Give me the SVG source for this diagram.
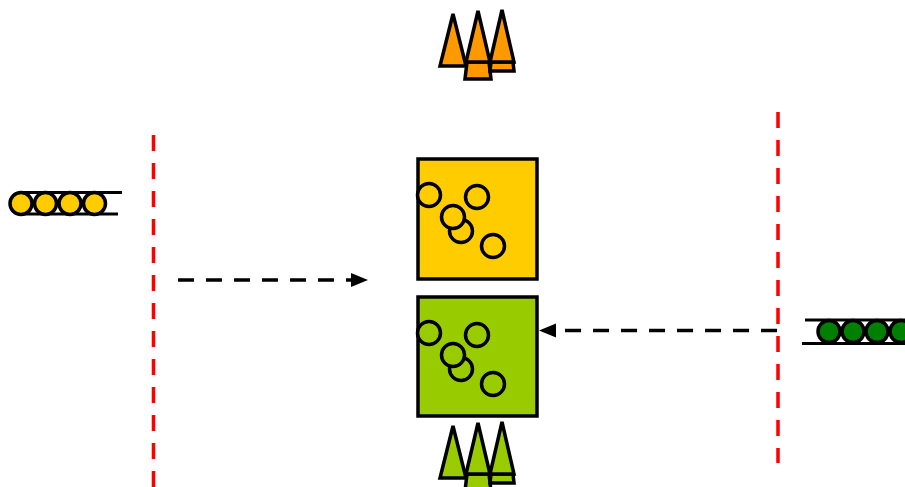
<svg xmlns="http://www.w3.org/2000/svg" width="905" height="487" viewBox="0 0 905 487">
  <style>
    .bd { stroke: #000; stroke-width: 3.5; stroke-linejoin: miter; }
    .boundary { stroke: #FF0000; stroke-width: 3.5; stroke-dasharray: 16 12; fill: none; }
    .flow { stroke: #000; stroke-width: 3.5; stroke-dasharray: 16 12; fill: none; }
    .rail { stroke: #000; stroke-width: 3; }
  </style>
  <defs>
    <marker id="head" markerUnits="userSpaceOnUse" markerWidth="18" markerHeight="16" refX="1" refY="8" orient="auto">
      <polygon points="0,1 17,8 0,15" fill="#000"/>
    </marker>
    <!-- cluster of three cones -->
    <g id="cones">
      <polygon class="bd" points="453,14 440,66 466,66"/>
      <polygon class="bd" points="467,62 489,62 491,79 465,79"/>
      <polygon class="bd" points="478,11 466,62 490,62"/>
      <polygon class="bd" points="491,62 513,62 514,71 490,71"/>
      <polygon class="bd" points="502,10 490,62 514,62"/>
    </g>
    <!-- box with scattered particles -->
    <g id="particles">
      <circle cx="12" cy="36" r="11.5"/>
      <circle cx="60" cy="38" r="11.5"/>
      <circle cx="44" cy="72" r="11.5"/>
      <circle cx="36" cy="58" r="11.5"/>
      <circle cx="76" cy="87" r="11.5"/>
    </g>
  </defs>

  <!-- boundaries -->
  <g id="boundaries">
    <line class="boundary" x1="153.5" y1="135" x2="153.5" y2="490"/>
    <line class="boundary" x1="778" y1="112" x2="778" y2="463"/>
  </g>

  <!-- top cones (orange) -->
  <g id="cones-top" fill="#FF9900">
    <use href="#cones"/>
  </g>

  <!-- bottom cones (green) -->
  <g id="cones-bottom" fill="#99CC00">
    <use href="#cones" transform="translate(0,412)"/>
  </g>

  <!-- yellow chain, left -->
  <g id="chain-left">
    <line class="rail" x1="20" y1="192.5" x2="122" y2="192.5"/>
    <line class="rail" x1="20" y1="214" x2="118" y2="214"/>
    <g fill="#FFCC00" class="bd">
      <circle cx="21" cy="203.5" r="11"/>
      <circle cx="45.5" cy="203.5" r="11"/>
      <circle cx="70" cy="203.5" r="11"/>
      <circle cx="94.5" cy="203.5" r="11"/>
    </g>
  </g>

  <!-- green chain, right -->
  <g id="chain-right">
    <line class="rail" x1="805" y1="320" x2="905" y2="320"/>
    <line class="rail" x1="802" y1="343.5" x2="905" y2="343.5"/>
    <g fill="#008000" class="bd">
      <circle cx="829" cy="331.5" r="11"/>
      <circle cx="853" cy="331.5" r="11"/>
      <circle cx="877" cy="331.5" r="11"/>
      <circle cx="901" cy="331.5" r="11"/>
    </g>
  </g>

  <!-- yellow box -->
  <g id="box-yellow">
    <rect x="418" y="159" width="119" height="120" fill="#FFCC00" class="bd"/>
    <use href="#particles" transform="translate(417,159)" fill="#FFCC00" class="bd"/>
  </g>

  <!-- green box -->
  <g id="box-green">
    <rect x="418" y="297" width="119" height="119" fill="#99CC00" class="bd"/>
    <use href="#particles" transform="translate(417,297)" fill="#99CC00" class="bd"/>
  </g>

  <!-- connectors -->
  <g id="connectors">
    <line class="flow" x1="178" y1="280" x2="352" y2="280" marker-end="url(#head)"/>
    <line class="flow" x1="777" y1="330.5" x2="555" y2="330.5" marker-end="url(#head)"/>
  </g>
</svg>
